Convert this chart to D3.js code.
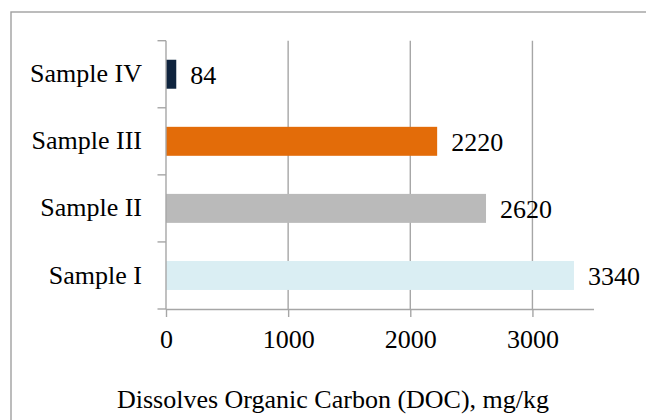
<!DOCTYPE html>
<html>
<head>
<meta charset="utf-8">
<script src="https://cdn.jsdelivr.net/npm/d3@7"></script>
<style>
  html, body { margin: 0; padding: 0; background: #fff; }
  #chart { width: 646px; height: 420px; }
</style>
</head>
<body>
<div id="chart"></div>
<script>
(function () {
  // -- Data -----------------------------------------------------------
  var categories = ["Sample IV", "Sample III", "Sample II", "Sample I"];
  var docValues  = [84, 2220, 2620, 3340];
  var barColors  = ["#0f243e", "#e36c09", "#bababa", "#daeef3"];
  var xTicks     = [0, 1000, 2000, 3000];
  var xMax       = 3500;
  var axisTitle  = "Dissolves Organic Carbon (DOC), mg/kg";

  var W = 646, H = 420;
  var FONT = "'Liberation Serif', 'Times New Roman', serif";
  var GRID = "#a6a6a6";

  var plot = { left: 166, right: 593.5, top: 40.7, bottom: 309 };

  var svg = d3.select("#chart").append("svg")
    .attr("width", W).attr("height", H);

  // outer frame (runs off the right / bottom edge)
  svg.append("rect")
    .attr("x", 11).attr("y", 12)
    .attr("width", W + 20).attr("height", H + 20)
    .attr("fill", "#fff")
    .attr("stroke", "#a0a0a0")
    .attr("stroke-width", 1.4);

  var x = d3.scaleLinear().domain([0, xMax]).range([plot.left, plot.right]);
  var pad = 0.568;
  var y = d3.scaleBand().domain(categories)
    .range([plot.top, plot.bottom])
    .paddingInner(pad).paddingOuter(pad / 2);
  var step = y.step();

  // vertical gridlines
  svg.append("g").selectAll("line")
    .data(xTicks.filter(function (t) { return t > 0; }))
    .join("line")
      .attr("x1", function (d) { return x(d); })
      .attr("x2", function (d) { return x(d); })
      .attr("y1", plot.top).attr("y2", plot.bottom)
      .attr("stroke", GRID).attr("stroke-width", 1.4);

  // bars
  svg.append("g").selectAll("rect")
    .data(categories)
    .join("rect")
      .attr("x", x(0))
      .attr("y", function (d) { return y(d); })
      .attr("width", function (d, i) { return x(docValues[i]) - x(0); })
      .attr("height", y.bandwidth())
      .attr("fill", function (d, i) { return barColors[i]; });

  // value labels
  svg.append("g").selectAll("text")
    .data(categories)
    .join("text")
      .attr("x", function (d, i) { return x(docValues[i]) + 14; })
      .attr("y", function (d) { return y(d) + y.bandwidth() / 2; })
      .attr("dy", "0.36em")
      .attr("font-family", FONT)
      .attr("font-size", "26px")
      .attr("fill", "#000")
      .text(function (d, i) { return docValues[i]; });

  // category axis: line + boundary ticks
  var boundaries = d3.range(categories.length + 1).map(function (i) { return plot.top + i * step; });
  svg.append("line")
    .attr("x1", plot.left).attr("x2", plot.left)
    .attr("y1", plot.top).attr("y2", plot.bottom)
    .attr("stroke", GRID).attr("stroke-width", 1.4);
  svg.append("g").selectAll("line")
    .data(boundaries)
    .join("line")
      .attr("x1", plot.left - 8.5).attr("x2", plot.left)
      .attr("y1", function (d) { return d; })
      .attr("y2", function (d) { return d; })
      .attr("stroke", GRID).attr("stroke-width", 1.4);

  svg.append("g").selectAll("text")
    .data(categories)
    .join("text")
      .attr("x", 142)
      .attr("y", function (d) { return y(d) + y.bandwidth() / 2; })
      .attr("dy", "0.31em")
      .attr("text-anchor", "end")
      .attr("font-family", FONT)
      .attr("font-size", "26px")
      .attr("fill", "#000")
      .text(function (d) { return d; });

  // value axis
  var xAxis = d3.axisBottom(x).tickValues(xTicks).tickFormat(d3.format("d"))
    .tickSize(8).tickSizeOuter(0).tickPadding(13);
  var gx = svg.append("g")
    .attr("transform", "translate(0," + plot.bottom + ")")
    .call(xAxis);
  gx.select(".domain").attr("stroke", GRID).attr("stroke-width", 1.4);
  gx.selectAll(".tick line").attr("stroke", GRID).attr("stroke-width", 1.4);
  gx.selectAll(".tick text")
    .attr("font-family", FONT)
    .attr("font-size", "26px")
    .attr("fill", "#000");

  // axis title
  svg.append("text")
    .attr("x", 333).attr("y", 408)
    .attr("text-anchor", "middle")
    .attr("font-family", FONT)
    .attr("font-size", "26px")
    .attr("fill", "#000")
    .text(axisTitle);
})();
</script>
</body>
</html>
